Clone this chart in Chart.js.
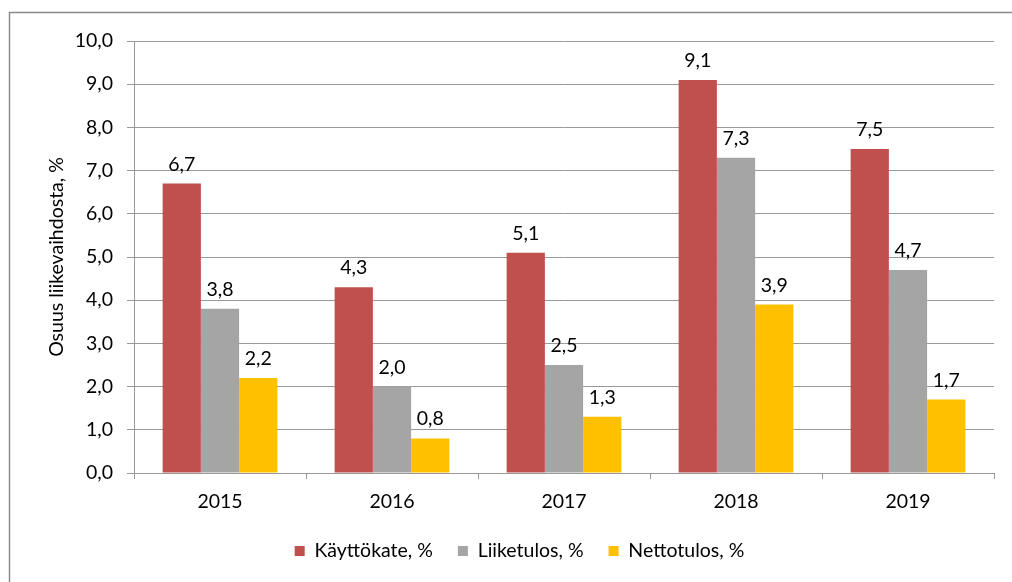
<!DOCTYPE html>
<html>
<head>
<meta charset="utf-8">
<script src="https://cdn.jsdelivr.net/npm/chart.js@4/dist/chart.umd.min.js"></script>
<style>
html,body{margin:0;padding:0;background:#fff;}
canvas{display:block;}
</style>
</head>
<body>
<canvas id="c" width="1012" height="582"></canvas>
<script>
const categories = ['2015', '2016', '2017', '2018', '2019'];
const kayttokate = [6.7, 4.3, 5.1, 9.1, 7.5];
const liiketulos = [3.8, 2.0, 2.5, 7.3, 4.7];
const nettotulos = [2.2, 0.8, 1.3, 3.9, 1.7];
const seriesNames = ['Käyttökate, %', 'Liiketulos, %', 'Nettotulos, %'];
const yAxisTitle = 'Osuus liikevaihdosta, %';

const FONT = 'Lato, "Open Sans", sans-serif';
const FS = 19.5;
const fmt = v => v.toFixed(1).replace('.', ',');

const framePlugin = {
  id: 'frame',
  beforeDraw(chart) {
    const ctx = chart.ctx;
    ctx.save();
    ctx.strokeStyle = '#8a8a8a';
    ctx.lineWidth = 1.5;
    ctx.beginPath();
    ctx.moveTo(9.5, 700);
    ctx.lineTo(9.5, 12.5);
    ctx.lineTo(1100, 12.5);
    ctx.stroke();
    ctx.restore();
  }
};

const labelPlugin = {
  id: 'barLabels',
  afterDatasetsDraw(chart) {
    const ctx = chart.ctx;
    ctx.save();
    ctx.font = FS + 'px ' + FONT;
    ctx.fillStyle = '#000';
    ctx.textAlign = 'center';
    ctx.textBaseline = 'alphabetic';
    chart.data.datasets.forEach((ds, i) => {
      const meta = chart.getDatasetMeta(i);
      meta.data.forEach((el, j) => {
        ctx.fillText(fmt(ds.data[j]), el.x, el.y - 13);
      });
    });
    ctx.restore();
  }
};

new Chart(document.getElementById('c'), {
  type: 'bar',
  data: {
    labels: categories,
    datasets: [
      { label: seriesNames[0], data: kayttokate, backgroundColor: '#C0504D' },
      { label: seriesNames[1], data: liiketulos, backgroundColor: '#A5A5A5' },
      { label: seriesNames[2], data: nettotulos, backgroundColor: '#FFC000' }
    ]
  },
  options: {
    responsive: false,
    animation: false,
    devicePixelRatio: 1,
    layout: { padding: { left: 45, top: 41, right: 18, bottom: 11.25 } },
    datasets: { bar: { categoryPercentage: 0.667, barPercentage: 1 } },
    plugins: {
      tooltip: { enabled: false },
      legend: {
        position: 'bottom',
        labels: {
          boxWidth: 10, boxHeight: 10, padding: 25,
          color: '#000', font: { family: FONT, size: FS }
        }
      }
    },
    scales: {
      x: {
        grid: { display: true, drawOnChartArea: false, drawTicks: true, tickLength: 6, color: '#999', offset: true },
        border: { display: true, color: '#999', width: 1 },
        ticks: { color: '#000', font: { family: FONT, size: FS }, padding: 11 },
        afterFit(s) { s.height = 43.25; }
      },
      y: {
        min: 0, max: 10,
        ticks: { stepSize: 1, color: '#000', font: { family: FONT, size: FS }, padding: 14,
                 callback: v => fmt(v) },
        grid: { color: '#999', tickLength: 7, lineWidth: 1 },
        border: { display: true, color: '#999', width: 1 },
        title: { display: true, text: yAxisTitle, color: '#000', font: { family: FONT, size: FS }, padding: 0 },
        afterFit(s) { s.width = 89; }
      }
    }
  },
  plugins: [framePlugin, labelPlugin]
});
</script>
</body>
</html>
